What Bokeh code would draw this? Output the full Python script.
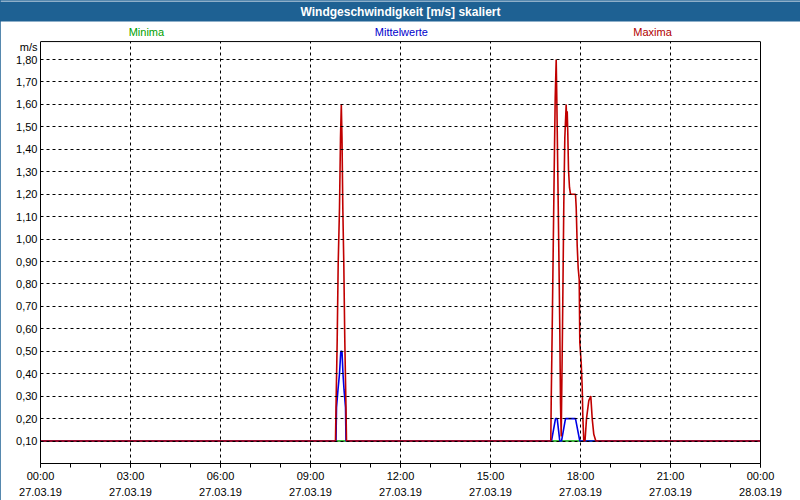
from bokeh.plotting import figure
from bokeh.models import Range1d, FixedTicker, Label, LinearAxis, Span
from bokeh.embed import file_html
from bokeh.resources import INLINE

# ---------------- data ----------------
title_text = "Windgeschwindigkeit [m/s] skaliert"
y_unit = "m/s"
y_unit_pos = 1.857
y_top = 1.88            # top of the value area
series_names = ["Minima", "Mittelwerte", "Maxima"]
series_colors = ["#00a000", "#0000e6", "#c00000"]
label_colors = ["#00a000", "#0000cc", "#b00000"]
legend_hours = [3.53, 12.03, 20.4]
legend_level = 1.922

x_tick_hours = [0, 3, 6, 9, 12, 15, 18, 21, 24]
x_tick_labels = ["00:00\n27.03.19", "03:00\n27.03.19", "06:00\n27.03.19",
                 "09:00\n27.03.19", "12:00\n27.03.19", "15:00\n27.03.19",
                 "18:00\n27.03.19", "21:00\n27.03.19", "00:00\n28.03.19"]
x_minor_hours = list(range(0, 25))
y_ticks = [0.1, 0.2, 0.3, 0.4, 0.5, 0.6, 0.7, 0.8, 0.9,
           1.0, 1.1, 1.2, 1.3, 1.4, 1.5, 1.6, 1.7, 1.8]
y_tick_labels = ["0,10", "0,20", "0,30", "0,40", "0,50", "0,60", "0,70", "0,80", "0,90",
                 "1,00", "1,10", "1,20", "1,30", "1,40", "1,50", "1,60", "1,70", "1,80"]

# Minima (hours since 27.03.19 00:00, m/s)
min_t = [0.0, 24.0]
min_v = [0.10, 0.10]

# Mittelwerte
mean_t = [0.0, 9.850, 9.867, 9.917, 9.967, 10.010, 10.050, 10.083, 10.117, 10.167, 10.183,
          17.033, 17.167, 17.223, 17.310, 17.367, 17.500, 17.833, 17.977, 24.0]
mean_v = [0.10, 0.10, 0.25, 0.33, 0.40, 0.50, 0.50, 0.40, 0.33, 0.25, 0.10,
          0.10, 0.20, 0.20, 0.10, 0.10, 0.20, 0.20, 0.10, 0.10]

# Maxima
max_t = [0.0, 9.833, 9.850, 9.890, 9.923, 9.967, 10.000, 10.027, 10.050, 10.077, 10.110,
         10.143, 10.183, 10.200,
         17.010, 17.023, 17.057, 17.090, 17.123, 17.157, 17.190, 17.210, 17.243, 17.277,
         17.310, 17.333, 17.357, 17.400, 17.443, 17.477, 17.523, 17.543, 17.557, 17.577,
         17.600, 17.633, 17.667, 17.833, 17.857, 17.890, 17.923, 17.957, 17.977, 18.023,
         18.057, 18.077, 18.110, 18.150, 18.200, 18.277, 18.343, 18.390, 18.443, 18.510,
         24.0]
max_v = [0.10, 0.10, 0.25, 0.55, 0.89, 1.14, 1.45, 1.60, 1.45, 1.14, 0.89,
         0.55, 0.25, 0.10,
         0.10, 0.27, 0.60, 0.95, 1.30, 1.63, 1.80, 1.63, 1.30, 0.95,
         0.60, 0.27, 0.12, 0.60, 1.15, 1.45, 1.60, 1.50, 1.57, 1.47,
         1.31, 1.23, 1.20, 1.20, 1.14, 0.97, 0.87, 0.82, 0.54, 0.45,
         0.34, 0.21, 0.10, 0.10, 0.20, 0.28, 0.30, 0.20, 0.13, 0.10,
         0.10]

# ---------------- figure ----------------
FONT = "Liberation Sans"
BAR = "#1e6193"

# the frame also holds the row of series names above the value area
p = figure(width=800, height=500,
           min_border_left=40, min_border_right=40, min_border_top=22, min_border_bottom=37,
           x_range=Range1d(0, 24), y_range=Range1d(0, 1.965),
           output_backend="svg", toolbar_location=None)
p.background_fill_color = "white"
p.border_fill_color = "white"
p.outline_line_color = None
p.styles = {"outline": "2px solid %s" % BAR, "outline-offset": "-2px"}

# title bar (padding order: left, right, top, bottom)
p.title.text = title_text
p.title.align = "center"
p.title.vertical_align = "middle"
p.title.text_color = "white"
p.title.text_font = FONT
p.title.text_font_style = "bold"
p.title.text_font_size = "12px"
p.title.background_fill_color = BAR
p.title.padding = (420, 420, 3, 3)
p.title.standoff = 0

for t, v, c in [(min_t, min_v, series_colors[0]),
                (mean_t, mean_v, series_colors[1]),
                (max_t, max_v, series_colors[2])]:
    p.line(t, v, line_color=c, line_width=1.6)

# vertical grid lines, limited to the value area, drawn over the data
grid_hours = x_tick_hours[1:-1]
p.segment(x0=grid_hours, y0=[0] * len(grid_hours), x1=grid_hours, y1=[y_top] * len(grid_hours),
          line_color="black", line_dash="3 3", line_width=1)
p.xgrid.visible = False

# horizontal grid
p.ygrid.ticker = FixedTicker(ticks=y_ticks)
p.ygrid.grid_line_color = "black"
p.ygrid.grid_line_dash = "3 3"
p.ygrid.grid_line_width = 1
p.ygrid.level = "guide"

# top edge of the value area
p.add_layout(Span(location=y_top, dimension="width", line_color="black", line_width=1))

# x axis
p.xaxis.ticker = FixedTicker(ticks=x_tick_hours, minor_ticks=x_minor_hours)
p.xaxis.major_label_overrides = dict(zip(x_tick_hours, x_tick_labels))
p.xaxis.major_tick_in = 0
p.xaxis.major_tick_out = 4
p.xaxis.minor_tick_in = 0
p.xaxis.minor_tick_out = 4
p.xaxis.major_label_standoff = 2
p.xaxis.major_label_text_font = FONT
p.xaxis.major_label_text_font_size = "11px"
p.xaxis.major_label_text_line_height = 1.35
p.xaxis.major_label_text_color = "black"
p.xaxis.axis_line_color = "black"

# y axis (unit shown as the top label)
p.yaxis.bounds = (0, y_top)
p.yaxis.ticker = FixedTicker(ticks=y_ticks + [y_unit_pos], minor_ticks=[])
overrides = dict(zip(y_ticks, y_tick_labels))
overrides[y_unit_pos] = y_unit
p.yaxis.major_label_overrides = overrides
p.yaxis.major_tick_in = 0
p.yaxis.major_tick_out = 0
p.yaxis.major_label_standoff = 3
p.yaxis.major_label_text_font = FONT
p.yaxis.major_label_text_font_size = "11px"
p.yaxis.major_label_text_color = "black"
p.yaxis.axis_line_color = "black"

# right edge of the value area
right = LinearAxis(bounds=(0, y_top), ticker=FixedTicker(ticks=[], minor_ticks=[]),
                   axis_line_color="black", major_tick_out=0, major_tick_in=0,
                   minor_tick_out=0, minor_tick_in=0)
p.add_layout(right, "right")

# series names above the value area
for name, c, h in zip(series_names, label_colors, legend_hours):
    p.add_layout(Label(x=h, y=legend_level, text=name, text_align="center",
                       text_baseline="middle", text_color=c, text_font=FONT,
                       text_font_size="11px"))

open("out.html", "w").write(file_html(p, INLINE))
